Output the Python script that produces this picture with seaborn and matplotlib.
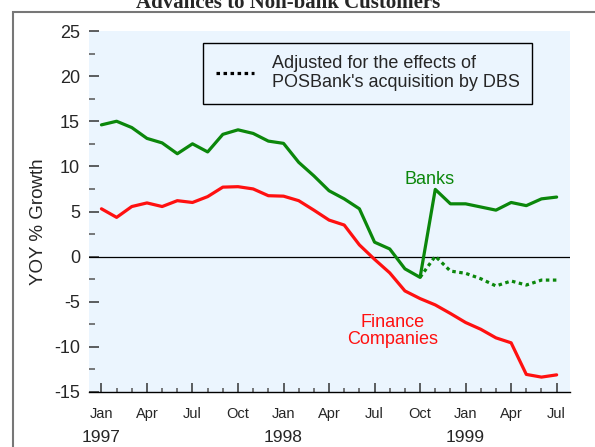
import matplotlib
matplotlib.use('Agg')
import matplotlib.pyplot as plt
import matplotlib.transforms as mtransforms
from matplotlib.patches import Rectangle
from matplotlib.lines import Line2D
from matplotlib.ticker import MultipleLocator
import seaborn as sns
import pandas as pd
import numpy as np

# ---------------- data ----------------
months = pd.date_range('1997-01-01', '1999-07-01', freq='MS')
banks = [14.6, 15.0, 14.3, 13.1, 12.6, 11.4, 12.5, 11.6, 13.55, 14.05,
         13.65, 12.8, 12.55, 10.45, 8.95, 7.3, 6.4, 5.3, 1.6, 0.85,
         -1.35, -2.3, 7.45, 5.85, 5.85, 5.5, 5.15, 6.0, 5.65, 6.4, 6.6]
finance = [5.3, 4.35, 5.55, 5.95, 5.55, 6.2, 6.0, 6.65, 7.7, 7.75,
           7.5, 6.75, 6.7, 6.2, 5.15, 4.05, 3.5, 1.3, -0.3, -1.8,
           -3.8, -4.65, -5.35, -6.3, -7.3, -8.05, -9.0, -9.55, -13.05, -13.35, -13.1]
adjusted_start = 21  # Oct 1998
adjusted = [-2.3, 0.05, -1.6, -1.85, -2.45, -3.25, -2.7, -3.15, -2.6, -2.6]
legend_label = "Adjusted for the effects of\nPOSBank's acquisition by DBS"
title = "Advances to Non-bank Customers"
ylabel = "YOY % Growth"

t = np.arange(len(months))
df = pd.DataFrame({'month': t, 'Banks': banks, 'Finance': finance})
df_adj = pd.DataFrame({'month': t[adjusted_start:adjusted_start + len(adjusted)],
                       'Adjusted': adjusted})

# ---------------- style ----------------
sns.set_style('white')
plt.rcParams['font.family'] = ['Liberation Sans', 'DejaVu Sans']
plt.rcParams['axes.unicode_minus'] = False

GREEN = '#0B870B'
RED = '#FF1010'
BG = '#EBF5FE'

fig = plt.figure(figsize=(5.95, 4.47), dpi=100)
fig.patch.set_facecolor('white')
ax = fig.add_axes([89 / 595, 1 - 392 / 447, (570 - 89) / 595, (392 - 31) / 447])
ax.set_facecolor(BG)

ax.axhline(0, color='black', lw=0.9, zorder=1)
sns.lineplot(data=df_adj, x='month', y='Adjusted', color=GREEN, lw=2.3,
             linestyle=(0, (1.1, 1.1)), ax=ax, zorder=2)
sns.lineplot(data=df, x='month', y='Banks', color=GREEN, lw=2.3, ax=ax, zorder=3)
sns.lineplot(data=df, x='month', y='Finance', color=RED, lw=2.3, ax=ax, zorder=3)

ax.set_xlim(-0.82, 30.88)
ax.set_ylim(-15, 25)

for s in ['top', 'right', 'left']:
    ax.spines[s].set_visible(False)
ax.spines['bottom'].set_color('black')
ax.spines['bottom'].set_linewidth(1.0)

# y ticks
ax.yaxis.set_major_locator(MultipleLocator(5))
ax.yaxis.set_minor_locator(MultipleLocator(2.5))
ax.tick_params(axis='y', which='major', direction='in', length=7, width=1.1,
               color='#333333', labelsize=13, pad=6.5, left=True)
ax.tick_params(axis='y', which='minor', direction='in', length=4, width=1.1,
               color='#555555', left=True)

# x ticks
ax.set_xticks(t[::3])
ax.set_xticklabels(months[::3].strftime('%b'))
ax.xaxis.set_minor_locator(MultipleLocator(1))
ax.tick_params(axis='x', which='major', direction='in', length=6.5, width=1.1,
               color='#333333', labelsize=10.5, pad=10.5, bottom=True)
ax.tick_params(axis='x', which='minor', direction='in', length=3, width=1.1,
               color='#555555', bottom=True)

trans = mtransforms.blended_transform_factory(ax.transData, ax.transAxes)
for i, m in enumerate(months):
    if m.month == 1:
        ax.text(t[i], -0.127, str(m.year), transform=trans, ha='center',
                va='center', fontsize=12.5)

ax.set_xlabel('')
ax.set_ylabel(ylabel, fontsize=13.5)
ax.yaxis.set_label_coords(-0.087, 0.473)

# series labels
ax.text(21.65, 8.6, 'Banks', color=GREEN, fontsize=13, ha='center', va='center')
ax.text(19.2, -8.26, 'Finance\nCompanies', color=RED, fontsize=13, ha='center',
        va='center', linespacing=0.95)

# legend
h = Line2D([], [], color='black', lw=2.3, linestyle=(0, (1.1, 1.1)))
leg = ax.legend([h], [legend_label], loc='upper left',
                bbox_to_anchor=((203 - 89) / 481, (392 - 42.7) / 361),
                borderaxespad=0, fontsize=13, frameon=True, fancybox=False,
                handlelength=2.1, handletextpad=1.0, borderpad=0.7)
leg.get_frame().set_edgecolor('black')
leg.get_frame().set_linewidth(1.0)
leg.get_frame().set_facecolor(BG)
leg.get_frame().set_alpha(1)
for txt in leg.get_texts():
    txt.set_linespacing(1.15)

# outer frame and title
fig.add_artist(Rectangle((13 / 595, -0.1), 1.2, (1 - 12 / 447) + 0.1,
                         transform=fig.transFigure, fill=False,
                         edgecolor='#777777', lw=1.5))
fig.text(0.484, 1 - 7.5 / 447, title, ha='center', va='baseline', fontsize=15,
         fontweight='bold', family=['Liberation Serif', 'DejaVu Serif'])

fig.savefig('out.png', dpi=100)
